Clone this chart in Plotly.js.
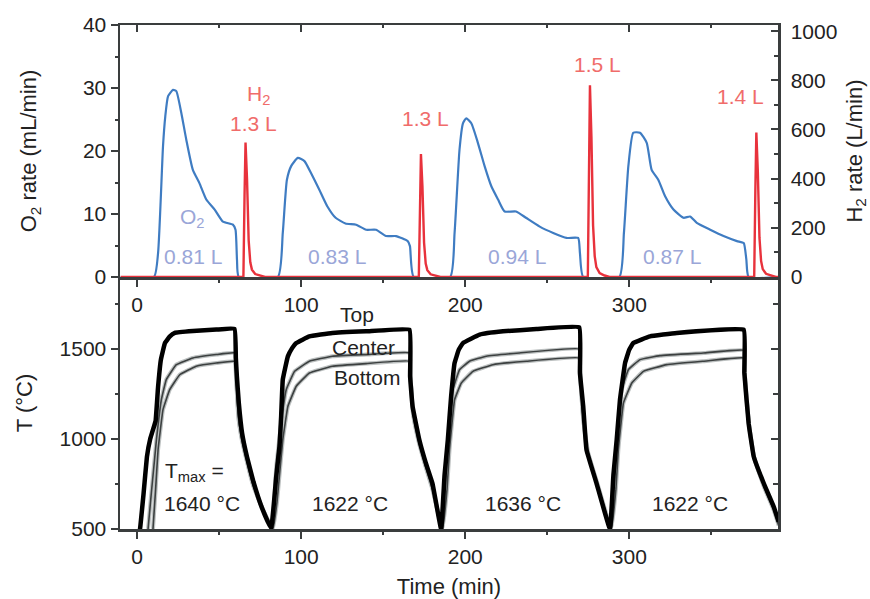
<!DOCTYPE html>
<html>
<head>
<meta charset="utf-8">
<script src="https://cdn.plot.ly/plotly-3.0.1.min.js"></script>
<style>html,body{margin:0;padding:0;background:#fff;}#chart{width:870px;height:599px;}</style>
</head>
<body>
<div id="chart"></div>
<script>
// ---- Data ----
// O2 evolution rate (mL/min) vs time (min)
const o2Time = [-10, 10.3, 12.8, 15.8, 17.2, 18.9, 21.9, 23.9, 27, 30, 34, 38, 42.2, 47.3, 52.3, 58.4, 60, 60.9, 62,
  85.8, 88.8, 91.3, 93.9, 98, 102, 106, 111, 116, 121, 127, 133.5, 139.6, 145.6, 151.7, 157.8, 164.9, 166.3, 168.6,
  190.8, 193.5, 196.5, 198.6, 200.6, 203.7, 207.7, 211.8, 215.9, 220, 224, 231, 237, 245.4, 253.6, 261.7, 268.8, 269.9, 271.9,
  293.9, 296.7, 299.4, 302.4, 306.5, 310.6, 313.6, 317.7, 321.8, 326.9, 333, 337, 341.1, 349.3, 357.4, 365.6, 369.7, 371.3, 372.7, 391];
const o2Rate = [0, 0, 3.8, 20.7, 25.5, 28.7, 29.7, 29.5, 26, 21.8, 17, 14.9, 12.3, 10.7, 8.8, 8.3, 7.5, 2.7, 0,
  0, 7, 15.4, 17.6, 18.9, 18.4, 16.5, 13.9, 11.2, 9.4, 8.5, 8.3, 7.5, 7.5, 6.5, 6.5, 5.7, 4.9, 0,
  0, 7, 20.2, 24.4, 25.2, 24.4, 21.3, 17.6, 14.4, 12.3, 10.4, 10.4, 9.4, 8, 7, 6.2, 6.2, 3.8, 0,
  0, 7, 17.6, 22.9, 22.9, 21.3, 17, 15.4, 12.8, 10.7, 9.4, 9.6, 8.6, 7.5, 6.5, 5.7, 5.4, 2.8, 0, 0];

// H2 production rate (L/min) vs time (min)
const h2Time = [-10, 64.8, 65.5, 66.1, 67, 68, 69, 70, 72, 75, 78,
  171.7, 172.4, 173, 173.9, 174.9, 175.9, 176.9, 178.9, 181.9, 184.9,
  274.7, 275.4, 276, 276.9, 277.9, 278.9, 279.9, 281.9, 284.9, 287.9,
  376.1, 376.8, 377.4, 378.3, 379.3, 380.3, 381.3, 383.3, 386.3, 389.3, 391];
const h2Rate = [0, 0, 330, 547, 400, 150, 60, 30, 12, 5, 0,
  0, 300, 500, 370, 140, 55, 28, 11, 4, 0,
  0, 470, 780, 570, 210, 85, 40, 16, 6, 0,
  0, 355, 588, 430, 160, 65, 32, 13, 5, 0, 0];

// Temperatures (°C)
const topTime = [0, 1.8, 4, 6, 8, 10, 11.3, 12.8, 14.5, 17, 20, 23, 34, 48.3, 59.4, 60.2, 60.8, 62, 64, 67, 71, 76, 81.7,
  84.8, 86.8, 87.8, 88.8, 91.9, 94.5, 97, 105, 119, 139.6, 166, 166.4, 167.9, 172, 176, 180, 185.3,
  187.4, 189.4, 191.4, 193.5, 196, 198.6, 208.8, 223, 243.4, 269.5, 269.9, 271.9, 273.9, 280, 288.2,
  290.3, 292.3, 294.3, 297.4, 299.9, 302.4, 312.6, 328.9, 369.7, 370.1, 372.7, 375.8, 381.9, 388, 391];
const topTemp = [430, 500, 700, 900, 1000, 1060, 1100, 1289, 1440, 1533, 1570, 1590, 1600, 1608, 1612, 1450, 1350, 1200, 1033, 900, 760, 620, 504,
  791, 958, 1125, 1330, 1459, 1505, 1533, 1570, 1589, 1598, 1607, 1348, 1181, 996, 866, 754, 500,
  800, 996, 1237, 1422, 1495, 1533, 1580, 1598, 1611, 1620, 1367, 1181, 940, 754, 500,
  800, 996, 1218, 1422, 1495, 1533, 1570, 1589, 1607, 1367, 1088, 903, 754, 624, 540];

const centerTime = [6.7, 8.7, 10.8, 11.8, 14.8, 17.8, 23.9, 34, 48.3, 59.4, 60.4, 61.5, 63.5, 66.5, 70.6, 76.7, 82.3,
  84.8, 87.8, 90.9, 96, 105, 119, 139.6, 166, 166.6, 168, 172, 176, 180, 185.8,
  189.4, 192.5, 196.5, 202.6, 212.8, 233, 269.5, 270, 271.5, 274, 280, 288.6,
  292.3, 295.4, 299.4, 306.5, 318.7, 345.2, 369.7, 370.3, 372.9, 376, 382, 388, 391];
const centerTemp = [500, 700, 900, 996, 1218, 1330, 1413, 1450, 1469, 1478, 1370, 1150, 1010, 890, 745, 610, 500,
  846, 1088, 1274, 1376, 1432, 1460, 1469, 1478, 1360, 1150, 980, 850, 730, 500,
  958, 1274, 1385, 1432, 1460, 1478, 1500, 1380, 1150, 950, 760, 500,
  958, 1274, 1385, 1441, 1463, 1478, 1493, 1370, 1080, 900, 745, 615, 530];

const bottomTime = [9.7, 11.3, 12.8, 15.8, 19.9, 26, 36, 48.3, 59.4, 60.5, 62, 64, 67, 71, 77, 82.8,
  85.3, 86.8, 88.8, 91.9, 97, 105, 119, 139.6, 166, 166.8, 168.5, 172, 176, 180, 186.2,
  188.9, 190.4, 193.5, 197.6, 204.7, 216.9, 237.3, 269.5, 270.1, 272, 275, 281, 289,
  291.8, 293.3, 296.4, 301.5, 308.6, 322.8, 345.2, 369.7, 370.4, 373, 376.2, 382, 388, 391];
const bottomTemp = [500, 720, 940, 1163, 1274, 1357, 1404, 1422, 1431, 1300, 1100, 1000, 880, 740, 600, 500,
  650, 800, 995, 1181, 1293, 1367, 1404, 1419, 1432, 1320, 1120, 970, 840, 720, 500,
  720, 940, 1218, 1311, 1376, 1413, 1432, 1450, 1330, 1100, 920, 740, 500,
  720, 940, 1200, 1311, 1376, 1413, 1432, 1450, 1330, 1070, 890, 735, 605, 520];

// Labels
const o2Volumes = ['0.81 L', '0.83 L', '0.94 L', '0.87 L'];
const o2VolTime = [34.1, 121.9, 231.6, 326];
const h2Volumes = ['1.3 L', '1.3 L', '1.5 L', '1.4 L'];
const h2VolTime = [70.7, 175.5, 280.3, 367.5];
const h2VolY = [24.3, 25.2, 33.7, 28.6];
const tmaxLabels = ['1640 °C', '1622 °C', '1636 °C', '1622 °C'];
const tmaxTime = [15.2, 129.8, 235.2, 337];
const xTicks = [0, 100, 200, 300];
const xMinor = [50, 150, 250, 350];

// ---- Styling ----
const FONT = 'Liberation Sans, Arial, Helvetica, sans-serif';
const AX = '#3a3d3e';
const TXT = '#222';
const O2C = '#3f7cc2', O2L = '#9aa6d8';
const H2C = '#e8323c', H2L = '#f06c6a';
const XR = [-10.4, 390.6];
const SM = {shape: 'spline', smoothing: 0.25};

const traces = [
  {x: o2Time, y: o2Rate, xaxis: 'x', yaxis: 'y', mode: 'lines', line: {color: O2C, width: 2.2, shape: 'spline', smoothing: 0.5}, name: 'O2'},
  {x: h2Time, y: h2Rate, xaxis: 'x', yaxis: 'y2', mode: 'lines', line: {color: H2C, width: 2.4}, name: 'H2'},
  {x: bottomTime, y: bottomTemp, xaxis: 'x2', yaxis: 'y3', mode: 'lines', line: Object.assign({color: '#bcc0c0', width: 4}, SM), hoverinfo: 'skip'},
  {x: centerTime, y: centerTemp, xaxis: 'x2', yaxis: 'y3', mode: 'lines', line: Object.assign({color: '#bcc0c0', width: 4}, SM), hoverinfo: 'skip'},
  {x: bottomTime, y: bottomTemp, xaxis: 'x2', yaxis: 'y3', mode: 'lines', line: Object.assign({color: '#3c4040', width: 1.6}, SM), name: 'Bottom'},
  {x: centerTime, y: centerTemp, xaxis: 'x2', yaxis: 'y3', mode: 'lines', line: Object.assign({color: '#3c4040', width: 1.6}, SM), name: 'Center'},
  {x: topTime, y: topTemp, xaxis: 'x2', yaxis: 'y3', mode: 'lines', line: Object.assign({color: '#000', width: 4.5}, SM), name: 'Top'}
];

const tickFont = {family: FONT, size: 21, color: TXT};
const titleFont = {family: FONT, size: 22, color: TXT};
const baseX = {
  range: XR, showgrid: false, zeroline: false, showline: true, linecolor: AX, linewidth: 2.5,
  tickvals: xTicks, ticktext: xTicks.map(String), ticks: 'outside', ticklen: 7, tickwidth: 2, tickcolor: AX,
  tickfont: tickFont, minor: {tickvals: xMinor, ticks: 'outside', ticklen: 3, tickwidth: 2, tickcolor: AX}
};

const annotations = [];
function ann(text, x, y, xref, yref, color, extra) {
  annotations.push(Object.assign({text: text, x: x, y: y, xref: xref, yref: yref, showarrow: false,
    font: {family: FONT, size: 21, color: color}}, extra || {}));
}
ann('H<sub>2</sub>', 73.7, 28.9, 'x', 'y', H2L);
h2Volumes.forEach((t, i) => ann(t, h2VolTime[i], h2VolY[i], 'x', 'y', H2L));
ann('O<sub>2</sub>', 33.5, 9.3, 'x', 'y', O2L);
o2Volumes.forEach((t, i) => ann(t, o2VolTime[i], 3.2, 'x', 'y', O2L));
ann('Top', 134, 1694, 'x2', 'y3', TXT);
ann('Center', 137.7, 1511, 'x2', 'y3', TXT);
ann('Bottom', 140.2, 1344, 'x2', 'y3', TXT);
ann('T<sub>max</sub> =', 15.8, 817, 'x2', 'y3', TXT, {xanchor: 'left'});
tmaxLabels.forEach((t, i) => ann(t, tmaxTime[i], 644, 'x2', 'y3', TXT, i === 0 ? {xanchor: 'left'} : {}));

const layout = {
  width: 870, height: 599,
  margin: {l: 120, r: 92, t: 25, b: 70, pad: 0},
  paper_bgcolor: '#fff', plot_bgcolor: '#fff',
  showlegend: false,
  font: {family: FONT, color: TXT},
  xaxis: Object.assign({}, baseX, {anchor: 'y', domain: [0, 1]}),
  xaxis3: Object.assign({}, baseX, {anchor: 'y', overlaying: 'x', side: 'top', showticklabels: false, ticks: 'inside',
    minor: {tickvals: xMinor, ticks: 'inside', ticklen: 3, tickwidth: 2, tickcolor: AX}}),
  xaxis2: Object.assign({}, baseX, {anchor: 'y3', domain: [0, 1],
    title: {text: 'Time (min)', font: titleFont, standoff: 12}}),
  yaxis: {
    domain: [0.5, 1], anchor: 'x', range: [0, 40], showgrid: false, zeroline: false,
    showline: true, linecolor: AX, linewidth: 2.5,
    tickvals: [0, 10, 20, 30, 40], ticks: 'outside', ticklen: 7, tickwidth: 2, tickcolor: AX, tickfont: tickFont,
    minor: {tickvals: [5, 15, 25, 35], ticks: 'outside', ticklen: 3, tickwidth: 2, tickcolor: AX},
    title: {text: 'O<sub>2</sub> rate (mL/min)', font: titleFont, standoff: 40}
  },
  yaxis2: {
    overlaying: 'y', side: 'right', anchor: 'x', range: [0, 1025], showgrid: false, zeroline: false,
    showline: true, linecolor: AX, linewidth: 2.5,
    tickvals: [0, 200, 400, 600, 800, 1000], ticks: 'inside', ticklen: 7, tickwidth: 2, tickcolor: AX, tickfont: tickFont,
    minor: {tickvals: [100, 300, 500, 700, 900], ticks: 'inside', ticklen: 4, tickwidth: 2, tickcolor: AX},
    ticklabelstandoff: 6,
    title: {text: 'H<sub>2</sub> rate (L/min)', font: titleFont, standoff: 10}
  },
  yaxis3: {
    domain: [0, 0.5], anchor: 'x2', range: [500, 1900], showgrid: false, zeroline: false,
    showline: true, linecolor: AX, linewidth: 2.5,
    tickvals: [500, 1000, 1500], ticks: 'outside', ticklen: 7, tickwidth: 2, tickcolor: AX, tickfont: tickFont,
    minor: {tickvals: [750, 1250, 1750], ticks: 'outside', ticklen: 3, tickwidth: 2, tickcolor: AX},
    title: {text: 'T (°C)', font: titleFont, standoff: 21}
  },
  yaxis4: {
    overlaying: 'y3', side: 'right', anchor: 'x2', range: [500, 1900], showgrid: false, zeroline: false,
    showline: true, linecolor: AX, linewidth: 2.5, showticklabels: false,
    tickvals: [500, 1000, 1500], ticks: 'inside', ticklen: 7, tickwidth: 2, tickcolor: AX,
    minor: {tickvals: [750, 1250, 1750], ticks: 'inside', ticklen: 5, tickwidth: 2, tickcolor: AX}
  },
  annotations: annotations
};

// invisible anchor points so the overlay axes are drawn
traces.push({x: [XR[0]], y: [0], xaxis: 'x3', yaxis: 'y', mode: 'markers', marker: {opacity: 0}, hoverinfo: 'skip'});
traces.push({x: [XR[0]], y: [500], xaxis: 'x2', yaxis: 'y4', mode: 'markers', marker: {opacity: 0}, hoverinfo: 'skip'});

Plotly.newPlot('chart', traces, layout, {displayModeBar: false, staticPlot: true});
</script>
</body>
</html>
